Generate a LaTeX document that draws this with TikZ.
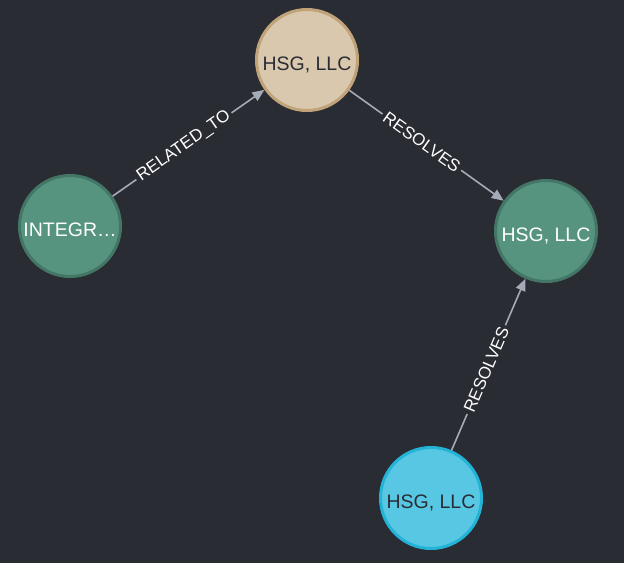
\documentclass[tikz,border=0pt]{standalone}
\usepackage{fontspec}
\setmainfont{Liberation Sans}
\usetikzlibrary{arrows.meta}
\definecolor{bgdark}{HTML}{2A2C34}
\definecolor{edgegrey}{HTML}{A5ABB6}
\definecolor{tanfill}{HTML}{D9C8AE}
\definecolor{tanline}{HTML}{C0A378}
\definecolor{greenfill}{HTML}{569480}
\definecolor{greenline}{HTML}{447666}
\definecolor{cyanfill}{HTML}{57C7E3}
\definecolor{cyanline}{HTML}{23B3D7}
\begin{document}
\begin{tikzpicture}[
        x=1pt, y=1pt,
        entity/.style={circle, line width=3pt, minimum size=101pt, inner sep=0pt,
            text height=20pt, text depth=0pt, font=\fontsize{19.5}{20}\selectfont},
        tannode/.style={entity, draw=tanline, fill=tanfill, text=bgdark},
        greennode/.style={entity, draw=greenline, fill=greenfill, text=white},
        cyannode/.style={entity, draw=cyanline, fill=cyanfill, text=bgdark},
        rel/.style={-{Triangle[length=12pt, width=10pt]}, edgegrey, line width=1.6pt},
        rellabel/.style={sloped, pos=0.47, fill=bgdark, text=white, inner sep=3pt,
            font=\fontsize{17}{17}\selectfont}
    ]
    \useasboundingbox[fill=bgdark] (0,0) rectangle (624,-563);
    % Nodes
    \node[tannode] (T) at (307, -60) {HSG, LLC};
    \node[greennode] (I) at (70, -226) {INTEGR…};
    \node[greennode] (R) at (546, -231) {HSG, LLC};
    \node[cyannode] (B) at (431, -498) {HSG, LLC};
    % Edges
    \draw[rel] (I) -- node[rellabel] {RELATED\_TO} (T);
    \draw[rel] (T) -- node[rellabel] {RESOLVES} (R);
    \draw[rel] (B) -- node[rellabel] {RESOLVES} (R);
\end{tikzpicture}
\end{document}
